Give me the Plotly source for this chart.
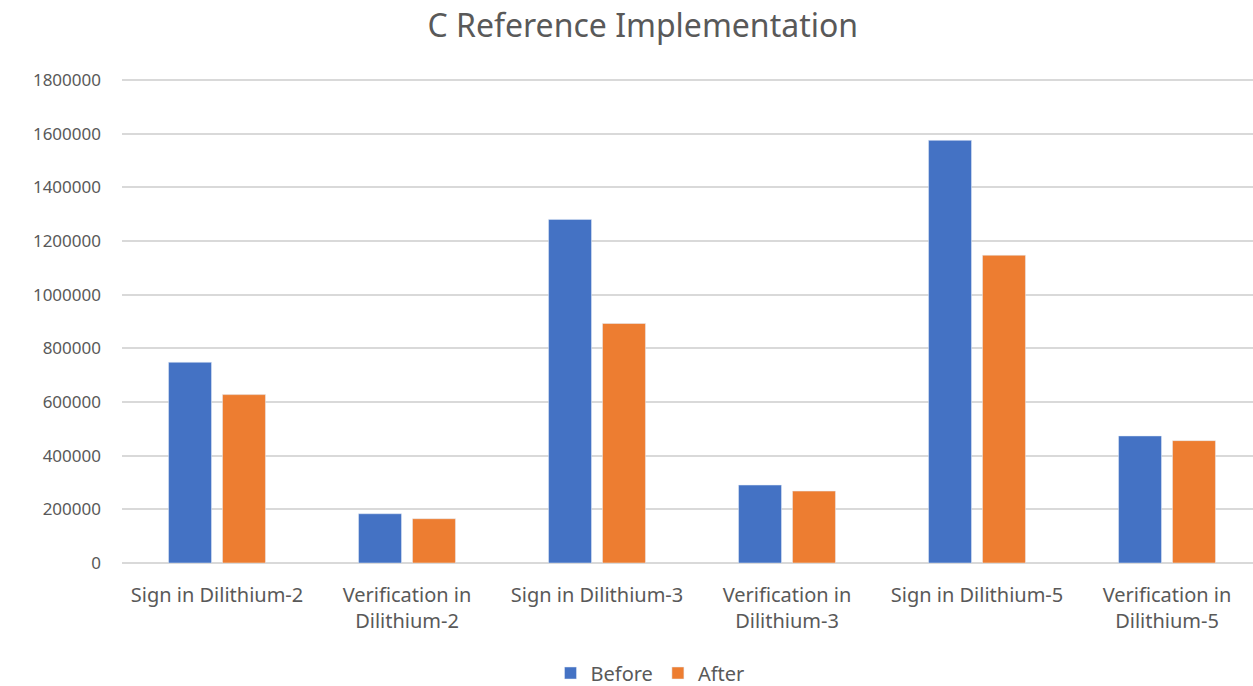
import plotly.graph_objects as go

categories = [
    "Sign in Dilithium-2",
    "Verification in<br>Dilithium-2",
    "Sign in Dilithium-3",
    "Verification in<br>Dilithium-3",
    "Sign in Dilithium-5",
    "Verification in<br>Dilithium-5",
]
before = [748000, 183500, 1280500, 290500, 1575000, 473500]
after = [627500, 165000, 892500, 268000, 1147000, 456000]

ytick_vals = [0, 200000, 400000, 600000, 800000, 1000000, 1200000, 1400000, 1600000, 1800000]

FONT = "Noto Sans"
TEXT = "#595959"

fig = go.Figure()
fig.add_trace(go.Bar(name="Before", x=categories, y=before, marker_color="#4472C4"))
fig.add_trace(go.Bar(name="After", x=categories, y=after, marker_color="#ED7D31"))

fig.update_layout(
    width=1253,
    height=686,
    margin=dict(l=122, r=0, t=78, b=123, autoexpand=False),
    paper_bgcolor="white",
    plot_bgcolor="white",
    barmode="group",
    bargap=0.432,
    bargroupgap=0.204,
    title=dict(
        text="C Reference Implementation",
        x=0.513,
        xanchor="center",
        y=0.963,
        yanchor="middle",
        font=dict(family=FONT, size=32, color=TEXT),
    ),
    font=dict(family=FONT, color=TEXT),
    legend=dict(
        orientation="h",
        xref="container",
        x=650 / 1253,
        xanchor="center",
        yref="container",
        y=(686 - 673) / 686,
        yanchor="middle",
        font=dict(family=FONT, size=20, color=TEXT),
        itemwidth=30,
    ),
)

fig.update_yaxes(
    range=[0, 1807450],
    tickvals=ytick_vals,
    ticktext=[str(v) for v in ytick_vals],
    showgrid=True,
    gridcolor="#d9d9d9",
    gridwidth=1.5,
    zeroline=True,
    zerolinecolor="#d9d9d9",
    zerolinewidth=1.5,
    showline=False,
    ticks="",
    automargin=False,
    ticklabelstandoff=20,
    tickfont=dict(family=FONT, size=17, color=TEXT),
)

fig.update_xaxes(
    range=[-0.5, -0.5 + 1131 / 190],
    showgrid=False,
    showline=False,
    ticks="",
    automargin=False,
    ticklabelstandoff=18,
    tickfont=dict(family=FONT, size=20, color=TEXT),
)

fig.write_html("out.html")
